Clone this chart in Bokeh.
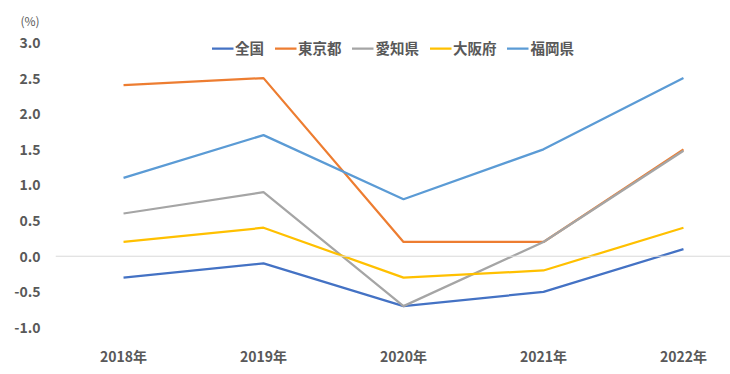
from bokeh.plotting import figure
from bokeh.models import Range1d, Span, Legend, LegendItem, Title, FixedTicker
from bokeh.embed import file_html
from bokeh.resources import INLINE

years = ["2018年", "2019年", "2020年", "2021年", "2022年"]
series_names = ["全国", "東京都", "愛知県", "大阪府", "福岡県"]
zenkoku = [-0.3, -0.1, -0.7, -0.5, 0.1]
tokyo = [2.4, 2.5, 0.2, 0.2, 1.5]
aichi = [0.6, 0.9, -0.7, 0.2, 1.48]
osaka = [0.2, 0.4, -0.3, -0.2, 0.4]
fukuoka = [1.1, 1.7, 0.8, 1.5, 2.5]
y_ticks = [-1.0, -0.5, 0.0, 0.5, 1.0, 1.5, 2.0, 2.5, 3.0]
colors = ["#4472C4", "#ED7D31", "#A5A5A5", "#FFC000", "#5B9BD5"]

FONT = "Noto Sans CJK JP"
TXT = "#595959"

xs = list(range(len(years)))

p = figure(width=730, height=374, output_backend="svg", toolbar_location=None,
           x_range=Range1d(-0.486, 4.336), y_range=Range1d(-1.0, 3.112),
           min_border_left=55, min_border_right=0, min_border_top=34, min_border_bottom=47)
p.outline_line_color = None
p.xgrid.visible = False
p.ygrid.visible = False

p.add_layout(Span(location=0, dimension="width", line_color="#D9D9D9", line_width=1))

renderers = []
for name, vals, c in zip(series_names, [zenkoku, tokyo, aichi, osaka, fukuoka], colors):
    r = p.line(xs, vals, line_color=c, line_width=2.25)
    renderers.append((name, r))

legend = Legend(items=[LegendItem(label=n, renderers=[r]) for n, r in renderers],
                orientation="horizontal", location="top_center")
legend.label_text_font = FONT
legend.label_text_font_size = "14.5px"
legend.label_text_font_style = "bold"
legend.label_text_color = TXT
legend.glyph_width = 22
legend.label_standoff = 2
legend.spacing = 10
legend.padding = 0
legend.margin = 3
legend.border_line_color = None
legend.background_fill_alpha = 0
legend.label_height = 14
legend.glyph_height = 14
p.add_layout(legend)

for ax in (p.xaxis[0], p.yaxis[0]):
    ax.axis_line_color = None
    ax.major_tick_line_color = None
    ax.minor_tick_line_color = None
    ax.major_label_text_font = FONT
    ax.major_label_text_font_size = "14px"
    ax.major_label_text_font_style = "bold"
    ax.major_label_text_color = TXT

p.xaxis.ticker = FixedTicker(ticks=xs)
p.xaxis.major_label_overrides = {i: y for i, y in enumerate(years)}
p.xaxis.major_label_standoff = 12
p.yaxis.ticker = FixedTicker(ticks=y_ticks)
p.yaxis.major_label_overrides = {v: f"{v:.1f}" for v in y_ticks}
p.yaxis.major_label_standoff = 9

p.add_layout(Title(text="(%)", align="left", offset=-35, text_font=FONT,
                   text_font_size="12px", text_font_style="normal", text_color=TXT,
                   vertical_align="top", standoff=8), "above")

open("out.html", "w").write(file_html(p, INLINE))
